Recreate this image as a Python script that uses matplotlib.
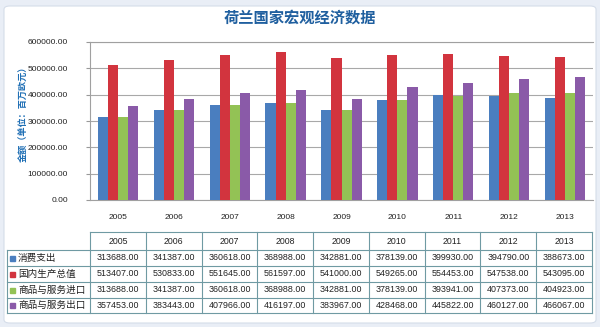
import numpy as np
import matplotlib
matplotlib.use('Agg')
from matplotlib import pyplot as plt
from matplotlib.patches import FancyBboxPatch, Rectangle

plt.rcParams['font.family'] = ['Liberation Sans', 'Noto Sans CJK SC', 'DejaVu Sans']

years = ['2005', '2006', '2007', '2008', '2009', '2010', '2011', '2012', '2013']
series_names = ['消费支出', '国内生产总值', '商品与服务进口', '商品与服务出口']
consumption = [313688, 341387, 360618, 368988, 342881, 378139, 399930, 394790, 388673]
gdp = [513407, 530833, 551645, 561597, 541000, 549265, 554453, 547538, 543095]
imports = [313688, 341387, 360618, 368988, 342881, 378139, 393941, 407373, 404923]
exports = [357453, 383443, 407966, 416197, 383967, 428468, 445822, 460127, 466067]
colors = ['#4a7ebf', '#d2343e', '#93c255', '#8a5aa8']

W, H = 600, 327
fig = plt.figure(figsize=(6, 3.27), dpi=100)
fig.patch.set_facecolor('#e9eef6')
bg = FancyBboxPatch((4 / W, 4 / H), 592 / W, 317 / H,
                    boxstyle='round,pad=0,rounding_size=0.01',
                    transform=fig.transFigure, facecolor='white',
                    edgecolor='#d5dde9', linewidth=0.8, zorder=-10)
fig.patches.append(bg)

# 柱状图
ax = fig.add_axes([90 / W, (H - 200) / H, 503 / W, 158 / H])
ax.set_facecolor('none')
x = np.arange(len(years))
bw = 0.18
all_series = [consumption, gdp, imports, exports]
for i, vals in enumerate(all_series):
    ax.bar(x + (i - 1.5) * bw, vals, width=bw, color=colors[i], zorder=3)
ax.set_xlim(-0.5, len(years) - 0.5)
ax.set_ylim(0, 600000)
ax.set_yticks(np.arange(0, 600001, 100000))
ax.set_yticklabels(['%.2f' % v for v in np.arange(0, 600001, 100000)],
                   fontsize=6, color='#222222')
ax.set_xticks(x)
ax.set_xticklabels(years, fontsize=6, color='#222222')
ax.tick_params(axis='x', length=0, pad=10)
ax.tick_params(axis='y', length=3, color='#999999', pad=13)
ax.grid(axis='y', color='#a8a8a8', linewidth=0.8, zorder=0)
for s in ['left', 'bottom', 'top']:
    ax.spines[s].set_color('#a0a0a0')
    ax.spines[s].set_linewidth(0.8)
ax.spines['right'].set_visible(False)

fig.text(0.5, (H - 18) / H, '荷兰国家宏观经济数据', ha='center', va='center',
         fontsize=11, fontweight='bold', color='#1f5f9f',
         family=['Noto Sans CJK SC', 'DejaVu Sans'])
fig.text(24 / W, (H - 112) / H, '金额（单位：百万欧元）', ha='center', va='center',
         rotation=90, fontsize=6.6, fontweight='bold', color='#1f6fb5',
         family=['Noto Sans CJK SC', 'DejaVu Sans'])

# 数据表
tab = fig.add_axes([0, 0, 1, 1])
tab.set_xlim(0, W)
tab.set_ylim(H, 0)
tab.axis('off')
line_c = '#6f9aa3'
rows_y = [232, 250, 266, 282, 298, 313]
x0, x1, x2 = 7, 90, 592
cw = (x2 - x1) / len(years)
tab.plot([x1, x2], [rows_y[0], rows_y[0]], color=line_c, lw=0.8)
for yy in rows_y[1:]:
    tab.plot([x0, x2], [yy, yy], color=line_c, lw=0.8)
tab.plot([x0, x0], [rows_y[1], rows_y[-1]], color=line_c, lw=0.8)
for j in range(len(years) + 1):
    xx = x1 + j * cw
    tab.plot([xx, xx], [rows_y[0], rows_y[-1]], color=line_c, lw=0.8)
for j, yr in enumerate(years):
    tab.text(x1 + (j + 0.5) * cw, (rows_y[0] + rows_y[1]) / 2, yr,
             ha='center', va='center', fontsize=6.3, color='#222222')
for i, vals in enumerate(all_series):
    yc = (rows_y[i + 1] + rows_y[i + 2]) / 2
    tab.add_patch(Rectangle((10, yc - 2.5), 5, 5, color=colors[i]))
    tab.text(18, yc, series_names[i], ha='left', va='center', fontsize=6.9,
             color='#222222', family=['Noto Sans CJK SC', 'DejaVu Sans'])
    for j, v in enumerate(vals):
        tab.text(x1 + (j + 0.5) * cw, yc, '%.2f' % v, ha='center', va='center',
                 fontsize=6.4, color='#222222')

plt.savefig('out.png', dpi=100)
